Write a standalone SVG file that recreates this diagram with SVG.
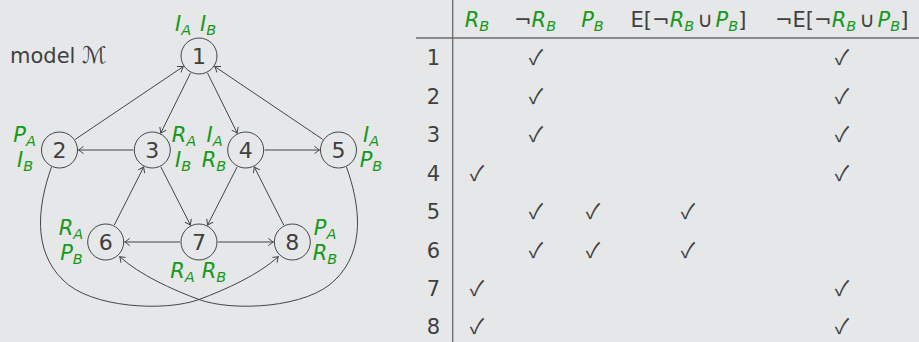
<svg xmlns="http://www.w3.org/2000/svg" width="919" height="342" viewBox="0 0 919 342">
<style>
text{font-family:"DejaVu Sans",sans-serif;fill:#404040;font-size:21px}
.g{fill:#17991a;font-style:italic}
.s{font-size:14.5px}
.n{text-anchor:middle}
.d{font-size:22px}
.c{font-family:"Noto Sans CJK JP","DejaVu Sans",sans-serif;font-size:21px;text-anchor:middle;fill:#404040}
.r{text-anchor:end}
circle{fill:none;stroke:#454545;stroke-width:1}
#edges path,#edges line{fill:none;stroke:#454545;stroke-width:1;marker-end:url(#ah)}
.rule{stroke:#6a6a6a;stroke-width:1.3}
</style>
<defs>
<marker id="ah" markerUnits="userSpaceOnUse" viewBox="-7 -5 8 10" refX="0" refY="0" markerWidth="8" markerHeight="10" orient="auto">
<path d="M-5,-3.6 Q-1.6,-1 0,0 Q-1.6,1 -5,3.6" fill="none" stroke="#454545" stroke-width="1"/>
</marker>
</defs>
<rect width="919" height="342" fill="#e6e7e9"/>
<text x="10" y="63">model <tspan font-size="23">ℳ</tspan></text>
<g id="edges">
<line x1="75.2" y1="139.4" x2="183.2" y2="66.6"/>
<line x1="322.8" y1="139.4" x2="214.8" y2="66.6"/>
<line x1="190.5" y1="73" x2="160.8" y2="133"/>
<line x1="207.5" y1="73" x2="237.2" y2="133"/>
<line x1="133.3" y1="150" x2="78.5" y2="150"/>
<line x1="264.7" y1="150" x2="319.5" y2="150"/>
<line x1="114.3" y1="225" x2="143.7" y2="167"/>
<line x1="160.9" y1="167" x2="190.4" y2="225"/>
<line x1="237.1" y1="167" x2="207.6" y2="225"/>
<line x1="283.7" y1="225" x2="254.3" y2="167"/>
<line x1="180" y1="242" x2="124.7" y2="242"/>
<line x1="218" y1="242" x2="273.3" y2="242"/>
<path d="M51.5,167 C38,205 32,250 63,280 C90,308 165,312 199,299.5 C226,289.5 258,275 278.3,256.7"/>
<path d="M346.5,167 C360,205 366,250 335,280 C308,308 233,312 199,299.5 C172,289.5 140,275 119.7,256.7"/>
</g>
<g id="n1"><circle cx="199" cy="56" r="18"/><text class="n d" x="199" y="64">1</text>
<text class="g" x="175" y="31">I<tspan class="s" dy="4">A</tspan></text><text class="g" x="200" y="31">I<tspan class="s" dy="4">B</tspan></text></g>
<g id="n2"><circle cx="59.5" cy="150" r="18"/><text class="n d" x="59.5" y="158">2</text>
<text class="g n" x="24.5" y="142">P<tspan class="s" dy="4">A</tspan></text><text class="g n" x="25" y="167">I<tspan class="s" dy="4">B</tspan></text></g>
<g id="n3"><circle cx="152.3" cy="150" r="18"/><text class="n d" x="152.3" y="158">3</text>
<text class="g n" x="184" y="142">R<tspan class="s" dy="4">A</tspan></text><text class="g n" x="183" y="167">I<tspan class="s" dy="4">B</tspan></text></g>
<g id="n4"><circle cx="245.7" cy="150" r="18"/><text class="n d" x="245.7" y="158">4</text>
<text class="g n" x="214.5" y="142">I<tspan class="s" dy="4">A</tspan></text><text class="g n" x="214" y="167">R<tspan class="s" dy="4">B</tspan></text></g>
<g id="n5"><circle cx="338.5" cy="150" r="18"/><text class="n d" x="338.5" y="158">5</text>
<text class="g n" x="371" y="142">I<tspan class="s" dy="4">A</tspan></text><text class="g n" x="371" y="167">P<tspan class="s" dy="4">B</tspan></text></g>
<g id="n6"><circle cx="105.7" cy="242" r="18"/><text class="n d" x="105.7" y="250">6</text>
<text class="g n" x="71" y="235">R<tspan class="s" dy="4">A</tspan></text><text class="g n" x="71.5" y="260">P<tspan class="s" dy="4">B</tspan></text></g>
<g id="n7"><circle cx="199" cy="242" r="18"/><text class="n d" x="199" y="250">7</text>
<text class="g n" x="182.5" y="278">R<tspan class="s" dy="4">A</tspan></text><text class="g n" x="214" y="278">R<tspan class="s" dy="4">B</tspan></text></g>
<g id="n8"><circle cx="292.3" cy="242" r="18"/><text class="n d" x="292.3" y="250">8</text>
<text class="g n" x="325" y="235">P<tspan class="s" dy="4">A</tspan></text><text class="g n" x="325" y="260">R<tspan class="s" dy="4">B</tspan></text></g>
<g id="table">
<line class="rule" x1="452.7" y1="0" x2="452.7" y2="342"/>
<line class="rule" x1="416" y1="38" x2="919" y2="38"/>
<text class="n" x="477" y="27"><tspan class="g">R</tspan><tspan class="g s" dy="4">B</tspan></text>
<text class="n" x="535" y="27">¬<tspan class="g">R</tspan><tspan class="g s" dy="4">B</tspan></text>
<text class="n" x="592.5" y="27"><tspan class="g">P</tspan><tspan class="g s" dy="4">B</tspan></text>
<text class="n" x="688.5" y="27">E[¬<tspan class="g">R</tspan><tspan class="g s" dy="4">B</tspan><tspan dy="-4" dx="3">∪</tspan><tspan class="g" dx="3">P</tspan><tspan class="g s" dy="4">B</tspan><tspan dy="-4">]</tspan></text>
<text class="n" x="841.7" y="27">¬E[¬<tspan class="g">R</tspan><tspan class="g s" dy="4">B</tspan><tspan dy="-4" dx="3">∪</tspan><tspan class="g" dx="3">P</tspan><tspan class="g s" dy="4">B</tspan><tspan dy="-4">]</tspan></text>
<text class="r" x="440" y="65">1</text>
<text class="r" x="440" y="104">2</text>
<text class="r" x="440" y="142">3</text>
<text class="r" x="440" y="181">4</text>
<text class="r" x="440" y="219">5</text>
<text class="r" x="440" y="258">6</text>
<text class="r" x="440" y="296">7</text>
<text class="r" x="440" y="334">8</text>
<text class="c" x="536" y="65">✓</text><text class="c" x="842" y="65">✓</text>
<text class="c" x="536" y="104">✓</text><text class="c" x="842" y="104">✓</text>
<text class="c" x="536" y="142">✓</text><text class="c" x="842" y="142">✓</text>
<text class="c" x="477" y="181">✓</text><text class="c" x="842" y="181">✓</text>
<text class="c" x="536" y="219">✓</text><text class="c" x="593" y="219">✓</text><text class="c" x="688" y="219">✓</text>
<text class="c" x="536" y="258">✓</text><text class="c" x="593" y="258">✓</text><text class="c" x="688" y="258">✓</text>
<text class="c" x="477" y="296">✓</text><text class="c" x="842" y="296">✓</text>
<text class="c" x="477" y="334">✓</text><text class="c" x="842" y="334">✓</text>
</g>
</svg>
